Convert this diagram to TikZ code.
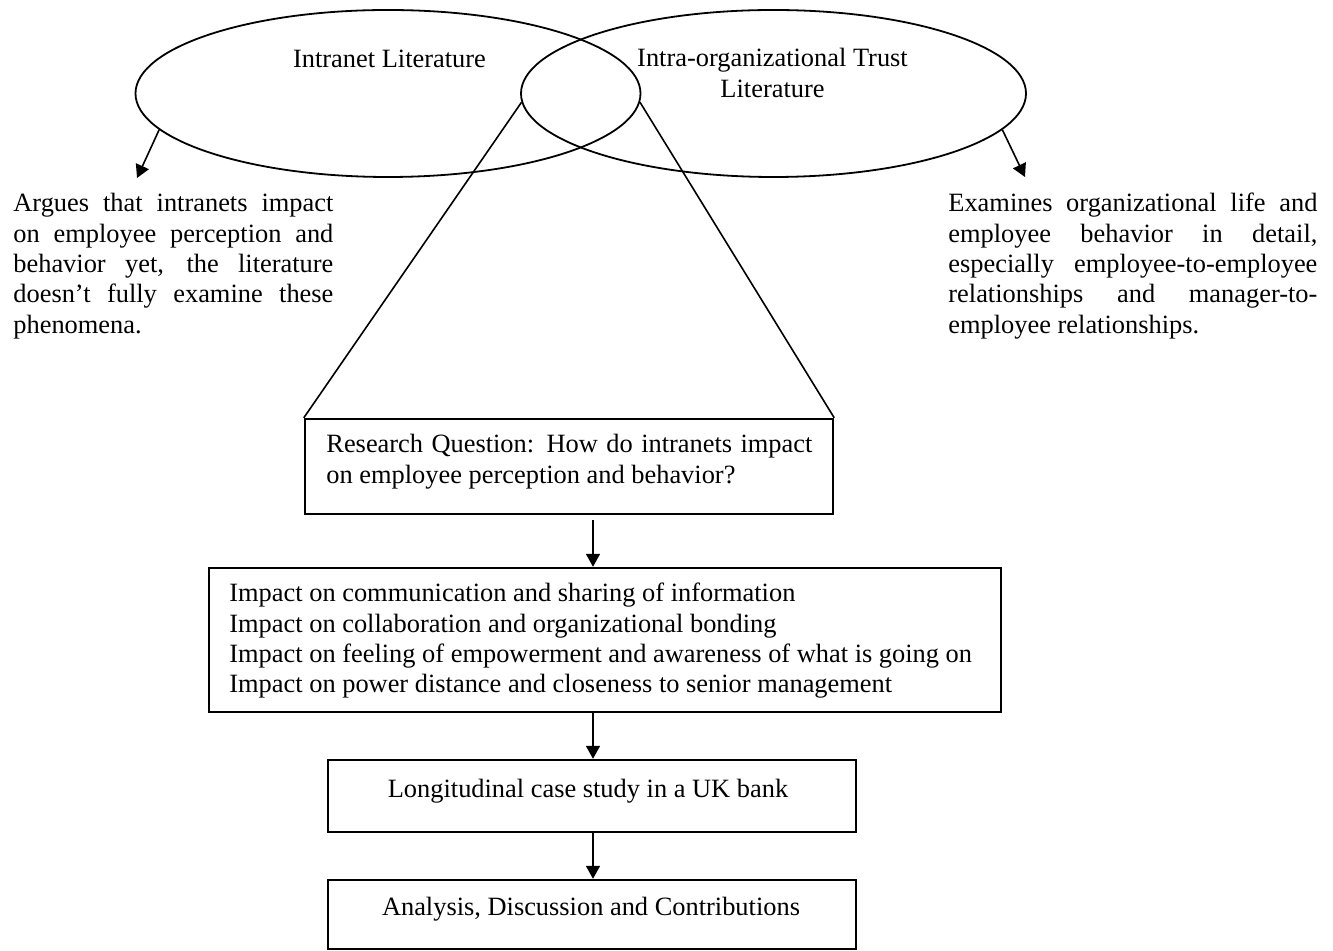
\documentclass[tikz,border=0pt]{standalone}
\usepackage{fontspec}
\setmainfont{Liberation Serif}
\usetikzlibrary{shapes.geometric,arrows.meta}
\begin{document}
\begin{tikzpicture}[x=0.5pt,y=-0.5pt,
  every node/.style={font=\fontsize{13.2}{15.15}\selectfont, inner sep=0pt},
  lit/.style={draw, ellipse, line width=0.9pt, minimum width=252.5pt, minimum height=83.5pt},
  boxnode/.style={draw, rectangle, line width=1.2pt},
  thinline/.style={line width=0.8pt},
  arr/.style={line width=0.8pt, -{Triangle[length=6.5pt,width=7pt]}},
  txt/.style={anchor=base west}]
\useasboundingbox (0,0) rectangle (1333,951);
% ellipses
\node[lit] (L) at (388,93.5) {};
\node[lit] (R) at (773.5,93.5) {};
\node[anchor=base] (tL) at (389.5,68) {Intranet Literature};
\node[anchor=base] (tR) at (772.5,67) {\begin{tabular}[t]{@{}c@{}}Intra-organizational Trust\\Literature\end{tabular}};
% side texts
\coordinate (aL) at (137,178);
\coordinate (aR) at (1025,177);
\node[txt] (argues) at (13,212) {\begin{tabular}[t]{@{}l@{}}\makebox[160pt][s]{Argues that intranets impact}\\\makebox[160pt][s]{on employee perception and}\\\makebox[160pt][s]{behavior yet, the literature}\\\makebox[160pt][s]{doesn’t fully examine these}\\phenomena.\end{tabular}};
\node[txt] (examines) at (948,212) {\begin{tabular}[t]{@{}l@{}}\makebox[184.5pt][s]{Examines organizational life and}\\\makebox[184.5pt][s]{employee behavior in detail,}\\\makebox[184.5pt][s]{especially employee-to-employee}\\\makebox[184.5pt][s]{relationships and manager-to-}\\employee relationships.\end{tabular}};
\draw[arr] (L.189.6) -- (aL);
\draw[arr] (R.-9.4) -- (aR);
% boxes
\node[boxnode, minimum width=264pt, minimum height=47.5pt] (RQ) at (569,466.5) {};
\node[txt] (rqt) at (326,453) {\begin{tabular}[t]{@{}l@{}}\makebox[243pt][s]{Research Question: How do intranets impact}\\on employee perception and behavior?\end{tabular}};
\node[boxnode, minimum width=396pt, minimum height=72pt] (IM) at (605,640) {};
\node[txt] (imt) at (229,602) {\begin{tabular}[t]{@{}l@{}}Impact on communication and sharing of information\\Impact on collaboration and organizational bonding\\Impact on feeling of empowerment and awareness of what is going on\\Impact on power distance and closeness to senior management\end{tabular}};
\node[boxnode, minimum width=264pt, minimum height=36pt] (LC) at (592,796) {};
\node[anchor=base] (lct) at (588,797) {Longitudinal case study in a UK bank};
\node[boxnode, minimum width=264pt, minimum height=34.5pt] (AD) at (592,914.5) {};
\node[anchor=base] (adt) at (591,915) {Analysis, Discussion and Contributions};
% connectors
\draw[thinline] (R.182.9) -- (RQ.north west);
\draw[thinline] (L.-2.8) -- (RQ.north east);
\coordinate (ax) at (593,0);
\draw[arr] ([yshift=-2.5pt]RQ.south -| ax) -- (IM.north -| ax);
\draw[arr] (IM.south -| ax) -- (LC.north -| ax);
\draw[arr] (LC.south -| ax) -- (AD.north -| ax);
\end{tikzpicture}
\end{document}
